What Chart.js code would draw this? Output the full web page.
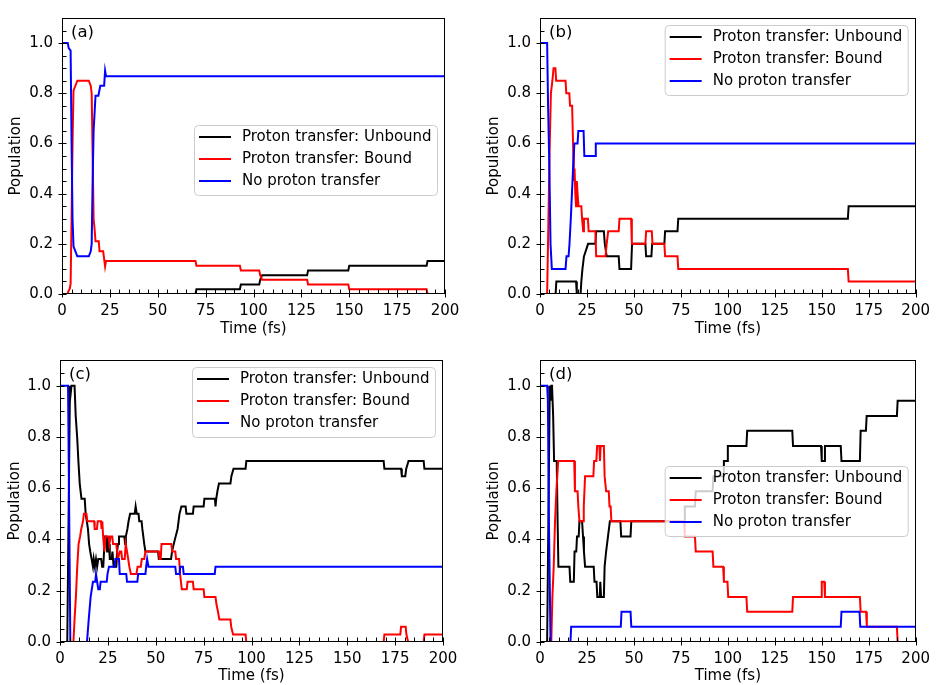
<!DOCTYPE html>
<html>
<head>
<meta charset="utf-8">
<script src="https://cdn.jsdelivr.net/npm/chart.js@4.4.1/dist/chart.umd.min.js"></script>
<style>
  body { margin: 0; background: #fff; }
  #wrap { position: relative; width: 938px; height: 685px; background: #fff; }
  canvas { position: absolute; }
</style>
</head>
<body>
<div id="wrap">
  <canvas id="chartA" width="469" height="342" style="left:0;top:0"></canvas>
  <canvas id="chartB" width="469" height="342" style="left:469px;top:0"></canvas>
  <canvas id="chartC" width="469" height="343" style="left:0;top:342px"></canvas>
  <canvas id="chartD" width="469" height="343" style="left:469px;top:342px"></canvas>
</div>
<script>
// series names and tick labels
const seriesNames = ["Proton transfer: Unbound", "Proton transfer: Bound", "No proton transfer"];
const xTicks = [0, 25, 50, 75, 100, 125, 150, 175, 200];
const yTicks = [0, 0.2, 0.4, 0.6, 0.8, 1.0];

// panel (a): [time fs, population]
const aUnbound = [[0,0],[69.7,0],[70.2,0.019],[92.9,0.019],[93.4,0.038],[103,0.038],[103.5,0.057],[104.5,0.075],[128,0.075],[128.5,0.094],[149.5,0.094],[150,0.113],[190.4,0.113],[190.9,0.132],[200,0.132]];
const aBound = [[0,0],[2.8,0],[3.3,0.01],[4,0.02],[4.5,0.04],[5,0.3],[5.5,0.6],[6,0.81],[7,0.83],[8,0.85],[14,0.85],[15,0.83],[15.5,0.8],[16,0.55],[16.5,0.3],[17,0.26],[17.5,0.21],[19.2,0.21],[19.6,0.17],[21.5,0.17],[22,0.14],[22.5,0.11],[23,0.132],[69.7,0.132],[70.2,0.113],[92.9,0.113],[93.4,0.094],[103,0.094],[103.5,0.075],[104.5,0.057],[128,0.057],[128.5,0.038],[149.5,0.038],[150,0.019],[190.4,0.019],[190.9,0],[200,0]];
const aNoTransfer = [[0,1],[3,1],[3.5,0.98],[4.5,0.97],[5,0.6],[5.5,0.3],[6,0.19],[7,0.17],[8,0.15],[14,0.15],[15,0.17],[15.5,0.2],[16,0.45],[16.5,0.65],[17,0.72],[17.5,0.79],[19,0.79],[19.5,0.81],[20,0.83],[22,0.83],[22.5,0.89],[23,0.868],[200,0.868]];

// panel (b)
const bUnbound = [[0,0],[8.3,0],[8.7,0.05],[19.2,0.05],[19.6,0],[21.6,0],[22,0.05],[22.6,0.1],[23.4,0.15],[25.6,0.2],[29.5,0.2],[29.9,0.25],[34,0.25],[34.5,0.2],[35.5,0.15],[41.9,0.15],[42.3,0.1],[48.5,0.1],[49,0.2],[56.1,0.2],[56.5,0.15],[59.3,0.15],[59.7,0.2],[66.2,0.2],[66.6,0.25],[73.2,0.25],[73.6,0.3],[163.9,0.3],[164.3,0.35],[200,0.35]];
const bBound = [[0,0],[3.8,0],[4.5,0.3],[5.2,0.6],[5.8,0.8],[6.6,0.85],[7.2,0.9],[8.2,0.9],[8.6,0.85],[13.6,0.85],[14,0.8],[15.6,0.8],[16,0.75],[17.1,0.75],[17.6,0.6],[18,0.45],[18.4,0.5],[18.8,0.4],[19.2,0.35],[19.6,0.45],[20,0.4],[20.5,0.35],[22,0.35],[22.4,0.3],[23,0.25],[23.4,0.3],[25.5,0.3],[25.9,0.25],[29.5,0.25],[29.9,0.15],[34.9,0.15],[35.5,0.2],[36.3,0.25],[41.9,0.25],[42.3,0.3],[48.5,0.3],[48.9,0.2],[56.1,0.2],[56.5,0.25],[59.5,0.25],[59.9,0.2],[66.2,0.2],[66.6,0.15],[73.2,0.15],[73.6,0.1],[163.9,0.1],[164.3,0.05],[200,0.05]];
const bNoTransfer = [[0,1],[3.8,1],[4.3,0.75],[5,0.5],[5.6,0.2],[6.3,0.1],[13.6,0.1],[14.1,0.15],[15.2,0.15],[15.7,0.2],[16.4,0.3],[17,0.4],[17.6,0.5],[18.3,0.6],[20,0.6],[20.4,0.65],[23.2,0.65],[23.6,0.55],[29.3,0.55],[29.7,0.6],[200,0.6]];

// panel (c)
const cUnbound = [[0,0],[3.8,0],[4.5,0.5],[5.2,1],[5.6,0.971],[6,1],[7.6,1],[8.2,0.882],[9,0.794],[9.6,0.706],[10.3,0.618],[11.2,0.559],[12.9,0.559],[13.4,0.5],[14,0.471],[14.6,0.441],[15.2,0.382],[15.8,0.353],[16.5,0.324],[17.2,0.294],[17.6,0.324],[18.2,0.294],[18.8,0.324],[19.4,0.294],[20,0.324],[21.5,0.324],[22,0.294],[22.6,0.294],[23,0.353],[23.5,0.412],[24.2,0.412],[24.6,0.353],[25,0.412],[25.6,0.382],[26,0.324],[27,0.324],[27.4,0.353],[28,0.294],[29.4,0.294],[29.8,0.353],[30.3,0.382],[30.8,0.412],[33.6,0.412],[34,0.382],[34.4,0.412],[35.2,0.441],[35.8,0.471],[36.6,0.5],[39,0.5],[39.5,0.529],[40.1,0.5],[41,0.5],[41.4,0.471],[42.6,0.471],[43,0.441],[43.5,0.412],[44,0.382],[44.6,0.353],[51.2,0.353],[51.6,0.324],[58,0.324],[58.5,0.353],[59.4,0.382],[60.4,0.412],[61.4,0.441],[62.4,0.5],[63.4,0.529],[65.6,0.529],[66,0.5],[69.4,0.5],[69.8,0.529],[75,0.529],[75.4,0.559],[80.9,0.559],[81.2,0.529],[81.6,0.559],[82.2,0.588],[83,0.618],[89,0.618],[89.5,0.647],[90.6,0.676],[96.9,0.676],[97.3,0.706],[169,0.706],[169.4,0.676],[178.1,0.676],[178.5,0.647],[180.3,0.647],[180.8,0.676],[182,0.706],[189.9,0.706],[190.3,0.676],[200,0.676]];
const cBound = [[0,0],[7,0],[7.6,0.088],[8.3,0.176],[9,0.294],[9.7,0.382],[10.5,0.412],[11.1,0.441],[12,0.471],[12.5,0.5],[13.8,0.5],[14.3,0.471],[17.8,0.471],[18.1,0.441],[19.3,0.441],[19.7,0.471],[21.4,0.471],[21.7,0.441],[22.1,0.471],[22.5,0.412],[23.2,0.353],[23.8,0.412],[25.4,0.412],[25.8,0.382],[26.4,0.412],[27.3,0.412],[27.7,0.382],[29.4,0.382],[29.8,0.353],[30.3,0.324],[31.2,0.353],[32,0.353],[32.4,0.324],[33.8,0.324],[34.3,0.382],[35,0.353],[35.6,0.324],[36.2,0.294],[37,0.265],[39.9,0.265],[40.5,0.294],[42.2,0.294],[42.7,0.324],[44,0.324],[44.6,0.353],[51.6,0.353],[52,0.324],[52.6,0.324],[53,0.382],[58.1,0.382],[58.6,0.353],[60.2,0.353],[60.6,0.324],[62.2,0.324],[62.7,0.265],[63.6,0.206],[66.2,0.206],[66.6,0.235],[69.4,0.235],[69.8,0.206],[75,0.206],[75.4,0.176],[81.2,0.176],[81.7,0.147],[82.5,0.118],[83.2,0.088],[89,0.088],[89.4,0.059],[90.4,0.029],[96.9,0.029],[97.3,0],[169,0],[169.4,0.029],[177.7,0.029],[178.1,0.059],[180.5,0.059],[180.9,0.029],[181.8,0],[189.9,0],[190.3,0.029],[200,0.029]];
const cNoTransfer = [[0,1],[4.2,1],[5.4,0],[14.1,0],[15,0.088],[16,0.176],[17.2,0.235],[18.4,0.235],[18.8,0.265],[19.4,0.235],[20,0.206],[20.8,0.206],[21.2,0.235],[24.4,0.235],[24.8,0.265],[25.6,0.294],[28.5,0.294],[28.9,0.324],[30.8,0.324],[31.2,0.265],[34.6,0.265],[35,0.235],[40.4,0.235],[40.8,0.265],[44.6,0.265],[45,0.294],[45.5,0.324],[46.2,0.294],[60.2,0.294],[60.6,0.265],[62.4,0.265],[62.8,0.294],[64.2,0.294],[64.6,0.265],[80.8,0.265],[81.2,0.294],[200,0.294]];

// panel (d)
const dUnbound = [[0,0],[3.8,0],[4.5,0.5],[5.2,1],[5.6,0.941],[6,1],[6.4,1],[7,0.882],[7.5,0.706],[8.9,0.706],[9.3,0.5],[9.8,0.294],[15.7,0.294],[16.1,0.235],[18,0.235],[18.4,0.353],[19.3,0.353],[19.7,0.412],[20.6,0.412],[21,0.471],[22.4,0.471],[22.9,0.412],[23.4,0.353],[24,0.294],[28.6,0.294],[29,0.235],[30.1,0.235],[30.5,0.176],[31.8,0.176],[32.1,0.235],[32.5,0.176],[34,0.176],[34.4,0.294],[35.2,0.353],[36.2,0.412],[37.2,0.471],[42.8,0.471],[43.2,0.412],[48.2,0.412],[48.6,0.471],[76.7,0.471],[77.1,0.529],[82.5,0.529],[82.9,0.588],[91.9,0.588],[92.3,0.647],[97.5,0.647],[97.9,0.706],[99.6,0.706],[100,0.765],[109.9,0.765],[110.3,0.824],[134.3,0.824],[134.7,0.765],[149.6,0.765],[150,0.706],[151.3,0.706],[151.7,0.765],[160.1,0.765],[160.5,0.706],[170.3,0.706],[170.7,0.824],[173.5,0.824],[173.9,0.882],[190,0.882],[190.4,0.941],[200,0.941]];
const dBound = [[0,0],[6,0],[6.6,0.176],[7.3,0.294],[8,0.471],[8.7,0.588],[9.7,0.706],[18.2,0.706],[18.6,0.588],[20,0.588],[20.4,0.529],[21,0.471],[22.9,0.471],[23.3,0.529],[24,0.647],[28.4,0.647],[28.8,0.706],[30,0.706],[30.4,0.765],[31.6,0.765],[31.9,0.706],[32.3,0.765],[34,0.765],[34.4,0.647],[35.2,0.588],[36.6,0.588],[37,0.529],[37.6,0.529],[38,0.471],[76.7,0.471],[77.1,0.412],[82.5,0.412],[82.9,0.353],[91.9,0.353],[92.3,0.294],[97.5,0.294],[97.9,0.235],[99.8,0.235],[100.2,0.176],[109.9,0.176],[110.3,0.118],[134.3,0.118],[134.7,0.176],[149.6,0.176],[150,0.235],[151.3,0.235],[151.7,0.176],[170.3,0.176],[170.7,0.118],[173.6,0.118],[174,0.059],[190,0.059],[190.4,0],[200,0]];
const dNoTransfer = [[0,1],[3.8,1],[4.2,0.941],[4.7,0.5],[5.6,0],[16.2,0],[16.6,0.059],[43,0.059],[43.4,0.118],[48.2,0.118],[48.6,0.059],[160.1,0.059],[160.5,0.118],[170.1,0.118],[170.5,0.059],[200,0.059]];

const lineColors = ["#000000", "#ff0000", "#0000ff"];
const FONT = "'DejaVu Sans', sans-serif";

Chart.defaults.font.family = FONT;
Chart.defaults.color = "#000";

// frame, inout ticks, panel label and legend box (matplotlib look)
const axesDecor = {
    id: "axesDecor",
    afterDraw(chart, args, opts) {
        const ctx = chart.ctx;
        const a = chart.chartArea;
        const xs = chart.scales.x, ys = chart.scales.y;
        ctx.save();
        ctx.strokeStyle = "#000";
        ctx.lineWidth = 1;
        const L = Math.round(a.left) + 0.5, R = Math.round(a.right) - 0.5;
        const T = Math.round(a.top) + 0.5, B = Math.round(a.bottom) - 0.5;
        ctx.strokeRect(L, T, R - L, B - T);

        ctx.beginPath();
        for (let t = 0; t <= 200; t += 5) {
            const px = Math.round(xs.getPixelForValue(t)) + 0.5;
            const major = t % 25 === 0;
            ctx.moveTo(px, B + (major ? 4 : 0));
            ctx.lineTo(px, B - 4);
        }
        for (let i = 0; i <= 22; i++) {
            const py = Math.round(ys.getPixelForValue(i * 0.05)) + 0.5;
            const major = i % 4 === 0;
            ctx.moveTo(L - (major ? 4 : 0), py);
            ctx.lineTo(L + 4, py);
        }
        ctx.stroke();

        // panel label
        ctx.fillStyle = "#000";
        ctx.font = "16.5px " + FONT;
        ctx.textBaseline = "middle";
        ctx.textAlign = "left";
        ctx.fillText(opts.label, a.left + 9, a.top + 15);

        // legend
        const w = 243, h = 70;
        const bx = a.right - 8 - w, by = a.top + opts.legendTop;
        ctx.beginPath();
        ctx.roundRect(bx + 0.5, by + 0.5, w, h, 4);
        ctx.fillStyle = "rgba(255,255,255,0.8)";
        ctx.fill();
        ctx.strokeStyle = "#cccccc";
        ctx.stroke();
        ctx.font = "15px " + FONT;
        seriesNames.forEach((name, i) => {
            const yy = by + 12 + i * 22;
            ctx.strokeStyle = lineColors[i];
            ctx.lineWidth = 2;
            ctx.beginPath();
            ctx.moveTo(bx + 5, yy);
            ctx.lineTo(bx + 37, yy);
            ctx.stroke();
            ctx.fillStyle = "#000";
            ctx.fillText(name, bx + 48, yy);
        });
        ctx.restore();
    }
};

function toPoints(arr) {
    return arr.map(p => ({ x: p[0], y: p[1] }));
}

function makePanel(id, series, label, legendTop, lay) {
    new Chart(document.getElementById(id).getContext("2d"), {
        type: "line",
        data: {
            datasets: series.map((s, i) => ({
                label: seriesNames[i],
                data: toPoints(s),
                borderColor: lineColors[i],
                borderWidth: 2,
                pointRadius: 0,
                fill: false,
                tension: 0,
                order: 3 - i
            }))
        },
        options: {
            responsive: false,
            animation: false,
            events: [],
            layout: { padding: { top: lay.top, right: lay.right, left: 0, bottom: 0 } },
            plugins: {
                legend: { display: false },
                tooltip: { enabled: false },
                axesDecor: { label: label, legendTop: legendTop }
            },
            scales: {
                x: {
                    type: "linear",
                    min: 0,
                    max: 200,
                    grid: { display: false, drawTicks: false },
                    border: { display: false },
                    afterBuildTicks: s => { s.ticks = xTicks.map(v => ({ value: v })); },
                    afterFit: s => { s.height = lay.xh; },
                    ticks: { font: { size: 15 }, padding: 8, maxRotation: 0, autoSkip: false, callback: v => String(v) },
                    title: { display: true, text: "Time (fs)", font: { size: 15 }, padding: { top: 0, bottom: lay.xtp } }
                },
                y: {
                    type: "linear",
                    min: 0,
                    max: 1.1,
                    grid: { display: false, drawTicks: false },
                    border: { display: false },
                    afterBuildTicks: s => { s.ticks = yTicks.map(v => ({ value: v })); },
                    afterFit: s => { s.width = lay.yw; },
                    ticks: { font: { size: 15 }, padding: 9, callback: v => v.toFixed(1) },
                    title: { display: true, text: "Population", font: { size: 15 }, padding: { top: lay.ytp, bottom: 0 } }
                }
            }
        },
        plugins: [axesDecor]
    });
}

makePanel("chartA", [aUnbound, aBound, aNoTransfer], "(a)", 107, { top: 10, right: 24, yw: 62, xh: 48, ytp: 7, xtp: 4 });
makePanel("chartB", [bUnbound, bBound, bNoTransfer], "(b)", 7, { top: 10, right: 16, yw: 71, xh: 48, ytp: 16, xtp: 4 });
makePanel("chartC", [cUnbound, cBound, cNoTransfer], "(c)", 7, { top: 16, right: 26, yw: 60, xh: 43, ytp: 6, xtp: 0 });
makePanel("chartD", [dUnbound, dBound, dNoTransfer], "(d)", 106, { top: 16, right: 16, yw: 71, xh: 43, ytp: 16, xtp: 0 });
</script>
</body>
</html>
